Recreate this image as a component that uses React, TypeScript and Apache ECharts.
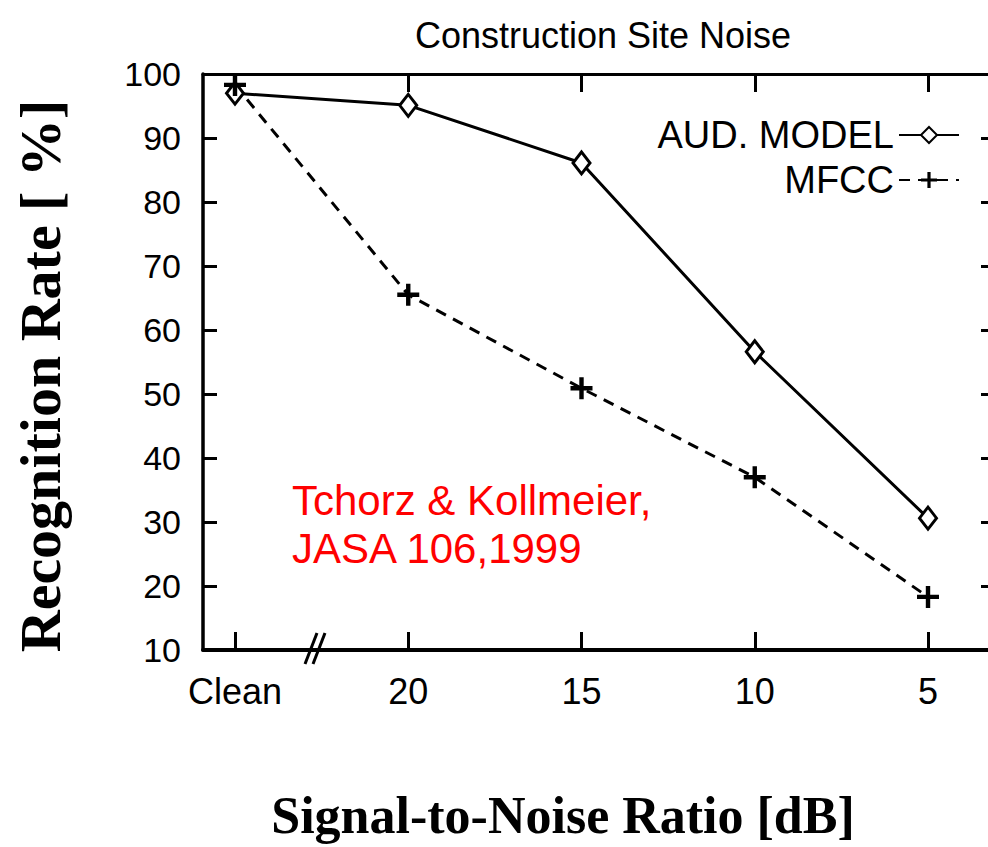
import React, { useEffect, useRef } from "react";
import * as echarts from "echarts";

const categories = ["Clean", "20", "15", "10", "5"];
const xPositions = [0, 1, 2, 3, 4];
const audModel = [97.0, 95.1, 86.1, 56.6, 30.6];
const mfcc = [98.3, 65.5, 50.9, 37.0, 18.3];
const yTicks = [10, 20, 30, 40, 50, 60, 70, 80, 90, 100];

const SANS = "'Liberation Sans', Arial, Helvetica, sans-serif";
const SERIF = "'Liberation Serif', 'Times New Roman', serif";
const PLUS = "path://M-1,-5L1,-5L1,-1L5,-1L5,1L1,1L1,5L-1,5L-1,1L-5,1L-5,-1L-1,-1Z";

export default function App() {
  const ref = useRef<HTMLDivElement>(null);
  useEffect(() => {
    if (!ref.current) return;
    const chart = echarts.init(ref.current, null, { renderer: "svg" });
    const xMin = -0.1847;
    const xMax = 4.3867;
    const axisBase = {
      type: "value",
      min: xMin,
      max: xMax,
      splitLine: { show: false },
    };
    const yBase = {
      type: "value",
      min: yTicks[0],
      max: yTicks[yTicks.length - 1],
      interval: 10,
      splitLine: { show: false },
    };
    chart.setOption({
      animation: false,
      backgroundColor: "#ffffff",
      title: {
        text: "Construction Site Noise",
        left: 598,
        top: 12,
        textAlign: "center",
        textStyle: { fontFamily: SANS, fontSize: 36, fontWeight: "normal", color: "#000" },
      },
      grid: { left: 203, right: 5, top: 74, bottom: 197 },
      legend: [
        {
          data: ["AUD. MODEL"],
          right: 40,
          top: 116,
          padding: 0,
          align: "right",
          itemWidth: 60,
          itemHeight: 20,
          textStyle: { fontFamily: SANS, fontSize: 38, color: "#000" },
        },
        {
          data: ["MFCC"],
          right: 40,
          top: 161,
          padding: 0,
          align: "right",
          itemWidth: 60,
          itemHeight: 20,
          textStyle: { fontFamily: SANS, fontSize: 38, color: "#000" },
        },
      ],
      xAxis: [
        {
          ...axisBase,
          position: "bottom",
          axisLine: { show: true, onZero: false, lineStyle: { color: "#000", width: 4 } },
          axisTick: { show: true, inside: true, length: 18, lineStyle: { color: "#000", width: 3 }, customValues: xPositions },
          axisLabel: {
            show: true,
            customValues: xPositions,
            formatter: (v: number) => categories[Math.round(v)] ?? "",
            fontFamily: SANS,
            fontSize: 36,
            color: "#000",
            margin: 23,
          },
        },
        {
          ...axisBase,
          position: "top",
          axisLine: { show: true, onZero: false, lineStyle: { color: "#000", width: 3 } },
          axisTick: { show: true, inside: true, length: 18, lineStyle: { color: "#000", width: 3 }, customValues: xPositions },
          axisLabel: { show: false },
        },
      ],
      yAxis: [
        {
          ...yBase,
          position: "left",
          axisLine: { show: true, onZero: false, lineStyle: { color: "#000", width: 3.5 } },
          axisTick: { show: true, inside: true, length: 14, lineStyle: { color: "#000", width: 3 } },
          axisLabel: { fontFamily: SANS, fontSize: 34, color: "#000", margin: 22 },
        },
        {
          ...yBase,
          position: "right",
          axisLine: { show: true, onZero: false, lineStyle: { color: "#000", width: 3.5 } },
          axisTick: { show: true, inside: true, length: 14, lineStyle: { color: "#000", width: 3 } },
          axisLabel: { show: false },
        },
      ],
      series: [
        {
          name: "AUD. MODEL",
          type: "line",
          xAxisIndex: 0,
          yAxisIndex: 0,
          data: xPositions.map((x, i) => [x, audModel[i]]),
          symbol: "diamond",
          symbolSize: [17, 22],
          showAllSymbol: true,
          lineStyle: { color: "#000", width: 3 },
          itemStyle: { color: "#fff", borderColor: "#000", borderWidth: 3 },
          z: 3,
        },
        {
          name: "MFCC",
          type: "line",
          xAxisIndex: 0,
          yAxisIndex: 0,
          data: xPositions.map((x, i) => [x, mfcc[i]]),
          symbol: PLUS,
          symbolSize: 22,
          showAllSymbol: true,
          lineStyle: { color: "#000", width: 3, type: [11, 8] },
          itemStyle: { color: "#000", borderWidth: 0 },
          z: 3,
        },
      ],
      graphic: [
        {
          type: "text",
          x: 40,
          y: 376,
          rotation: Math.PI / 2,
          style: {
            text: "Recognition Rate [ %]",
            fontFamily: SERIF,
            fontWeight: "bold",
            fontSize: 58,
            fill: "#000",
            textAlign: "center",
            textVerticalAlign: "middle",
          },
        },
        {
          type: "text",
          x: 563,
          y: 815,
          style: {
            text: "Signal-to-Noise Ratio [dB]",
            fontFamily: SERIF,
            fontWeight: "bold",
            fontSize: 52,
            fill: "#000",
            textAlign: "center",
            textVerticalAlign: "middle",
          },
        },
        {
          type: "text",
          x: 292,
          y: 476,
          style: {
            text: "Tchorz & Kollmeier,\nJASA 106,1999",
            fontFamily: SANS,
            fontSize: 42,
            lineHeight: 48,
            fill: "#ff0000",
            textAlign: "left",
            textVerticalAlign: "top",
          },
        },
        {
          type: "line",
          z: 10,
          shape: { x1: 305, y1: 664, x2: 317, y2: 633 },
          style: { stroke: "#000", lineWidth: 3 },
        },
        {
          type: "line",
          z: 10,
          shape: { x1: 313, y1: 664, x2: 325, y2: 633 },
          style: { stroke: "#000", lineWidth: 3 },
        },
      ],
    });
    return () => chart.dispose();
  }, []);
  return (
    <div style={{ position: "fixed", left: 0, top: 0, width: 988, height: 847, overflow: "hidden", background: "#fff" }}>
      <div ref={ref} style={{ width: 1000, height: 847 }} />
    </div>
  );
}
